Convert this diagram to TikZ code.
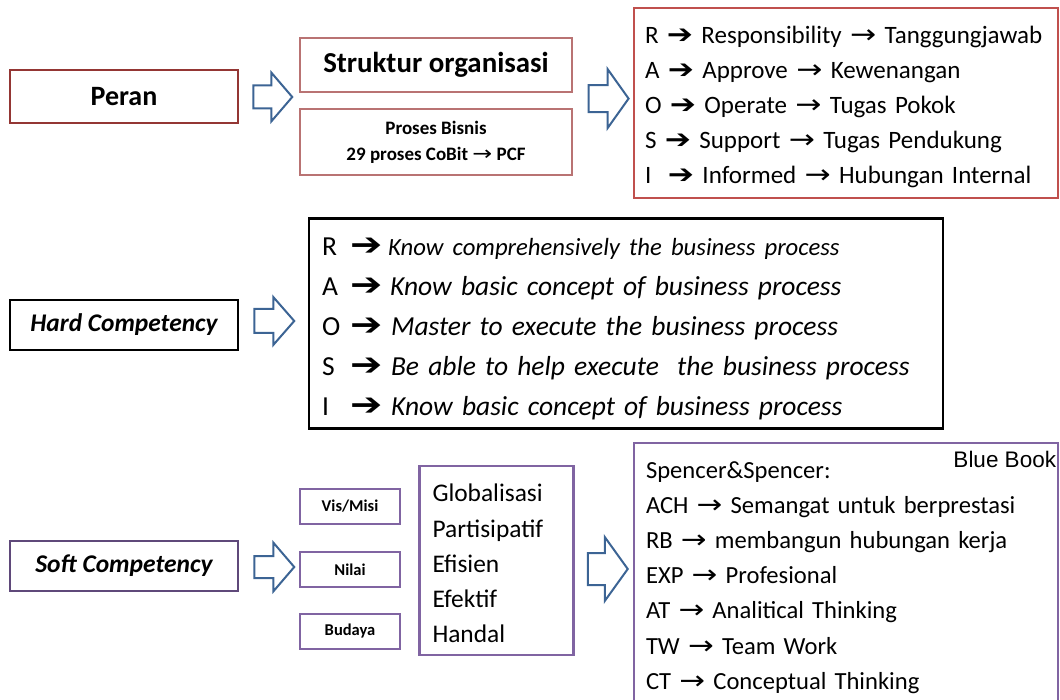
\documentclass[tikz,border=0pt]{standalone}
\usepackage{fontspec}
\usepackage{graphicx}
\setmainfont{Carlito}
\newfontfamily\dejavu{DejaVu Sans}
\newfontfamily\libsans{Liberation Sans}
\usetikzlibrary{calc}
\newcommand{\harr}{\scalebox{1.25}[1.05]{\dejavu\char"2794}}
\newcommand{\bigharr}{\scalebox{1.4}[1.15]{\dejavu\char"2794}}
\newcommand{\tarr}{\scalebox{1.25}[1.05]{\dejavu\char"2192}}
\definecolor{peranred}{HTML}{943634}
\definecolor{lightred}{HTML}{B97373}
\definecolor{raosired}{HTML}{C0504D}
\definecolor{arrblue}{HTML}{3C6494}
\definecolor{darkpurple}{HTML}{5F497A}
\definecolor{purple}{HTML}{8064A2}
% #1 start coordinate (left, centre), #2 length, #3 shaft length, #4 head half height, #5 shaft half height
\newcommand{\blockarr}[5]{%
  \draw[blockarrow] (#1) ++(0,-#5) -- ++(#3,0) -- ++(0,{#5-#4}) -- ++({#2-#3},#4)
    -- ++({#3-#2},#4) -- ++(0,{#5-#4}) -- ++(-#3,0) -- cycle;}
\begin{document}
\begin{tikzpicture}[x=1pt,y=-1pt,
  box/.style={draw, fill=white, inner sep=0pt, align=center},
  mainbox/.style={box, line width=2.5pt, minimum width=228pt},
  frame/.style={draw, fill=white, inner sep=0pt},
  listtext/.style={inner sep=0pt, align=left},
  blockarrow/.style={draw=arrblue, fill=white, line width=2pt, line join=miter},
  smallbox/.style={box, draw=purple, line width=1.2pt, minimum width=100pt, minimum height=35pt,
    font=\fontsize{16.5}{18}\selectfont\bfseries},
]
\useasboundingbox (0,0) rectangle (1060,700);

% ---------- row 1 ----------
\node[mainbox, draw=peranred, minimum height=53pt, font=\fontsize{28}{30}\selectfont\bfseries]
  (peran) at (124,96.5) {Peran};
\node[box, draw=lightred, line width=1.2pt, minimum width=272pt, minimum height=54pt,
  font=\fontsize{28.9}{30}\selectfont\bfseries] (struktur) at (436,65) {Struktur organisasi};
\node[box, draw=lightred, line width=1.2pt, minimum width=272pt, minimum height=66pt,
  font=\fontsize{19}{26}\selectfont\bfseries] (proses) at (436,142)
  {Proses Bisnis\\29 proses CoBit {\mdseries\tarr} PCF};
\node[frame, draw=raosired, line width=2.5pt, minimum width=424pt, minimum height=190pt]
  (raosi) at (846,103) {};
\node[listtext, text width=402pt, font=\fontsize{25}{35.2}\selectfont] (raositext)
  at ($(raosi.center)+(0,4)$)
  {R \harr\ Responsibility \tarr\ Tanggungjawab\\
   A \harr\ Approve \tarr\ Kewenangan\\
   O \harr\ Operate \tarr\ Tugas Pokok\\
   S \harr\ Support \tarr\ Tugas Pendukung\\
   I \ \harr\ Informed \tarr\ Hubungan Internal};

\coordinate (a1) at ($(peran.east)+(14,0.5)$);
\blockarr{a1}{39}{18}{24.5}{11.5}
\coordinate (a2) at ($(struktur.south east)+(16,6)$);
\blockarr{a2}{40}{19}{29.5}{13.5}

% ---------- row 2 ----------
\node[mainbox, draw=black, minimum height=50pt, font=\fontsize{25.4}{28}\selectfont\bfseries\itshape]
  (hard) at (124,325) {Hard Competency};
\node[frame, draw=black, line width=2.5pt, minimum width=634pt, minimum height=210pt]
  (hardbox) at (626,323.5) {};
\node[listtext, text width=608pt, font=\fontsize{27.5}{40}\selectfont] (hardtext)
  at ($(hardbox.center)+(0,5)$)
  {\makebox[28pt][l]{R}\makebox[38pt][l]{\bigharr}{\fontsize{24.7}{40}\selectfont\itshape Know comprehensively the business process}\\
   \makebox[28pt][l]{A}\makebox[40pt][l]{\bigharr}{\itshape Know basic concept of business process}\\
   \makebox[28pt][l]{O}\makebox[41pt][l]{\bigharr}{\itshape Master to execute the business process}\\
   \makebox[28pt][l]{S}\makebox[41pt][l]{\bigharr}{\itshape Be able to help execute\ \ the business process}\\
   \makebox[28pt][l]{I}\makebox[41pt][l]{\bigharr}{\itshape Know basic concept of business process}};
\coordinate (a3) at ($(hard.east)+(15,-4)$);
\blockarr{a3}{40}{19}{24}{12}

% ---------- row 3 ----------
\node[mainbox, draw=darkpurple, minimum height=50pt, font=\fontsize{25.5}{28}\selectfont\bfseries\itshape]
  (soft) at (124,566) {Soft Competency};
\node[smallbox] (vis) at (350,506.5) {Vis/Misi};
\node[smallbox] (nilai) at (350,569.5) {Nilai};
\node[smallbox] (budaya) at (350,631.5) {Budaya};
\node[frame, draw=purple, line width=2.5pt, minimum width=154pt, minimum height=189pt]
  (nilaibox) at (496.5,560.5) {};
\node[listtext, text width=128pt, font=\fontsize{25.4}{35.2}\selectfont] (nilaitext)
  at ($(nilaibox.center)+(0,3)$)
  {Globalisasi\\Partisipatif\\Efisien\\Efektif\\Handal};
\node[frame, draw=purple, line width=2.5pt, minimum width=424pt, minimum height=266pt]
  (spencer) at (846,576) {};
\node[listtext, text width=400pt, font=\fontsize{24.6}{35.2}\selectfont] (spencertext)
  at ($(spencer.center)+(0,1.5)$)
  {Spencer\&Spencer:\\
   ACH \tarr\ Semangat untuk berprestasi\\
   RB \tarr\ membangun hubungan kerja\\
   EXP \tarr\ Profesional\\
   AT \tarr\ Analitical Thinking\\
   TW \tarr\ Team Work\\
   CT \tarr\ Conceptual Thinking};
\node[font=\libsans\fontsize{22.5}{26}\selectfont, anchor=east, inner sep=0pt] (bluebook)
  at ($(spencer.north east)+(-3,18)$) {Blue Book};

\coordinate (a4) at ($(soft.east)+(15,1)$);
\blockarr{a4}{40}{19}{24.5}{11}
\coordinate (a5) at ($(nilaibox.east)+(13,8.5)$);
\blockarr{a5}{40}{17}{32}{16}
\end{tikzpicture}
\end{document}
